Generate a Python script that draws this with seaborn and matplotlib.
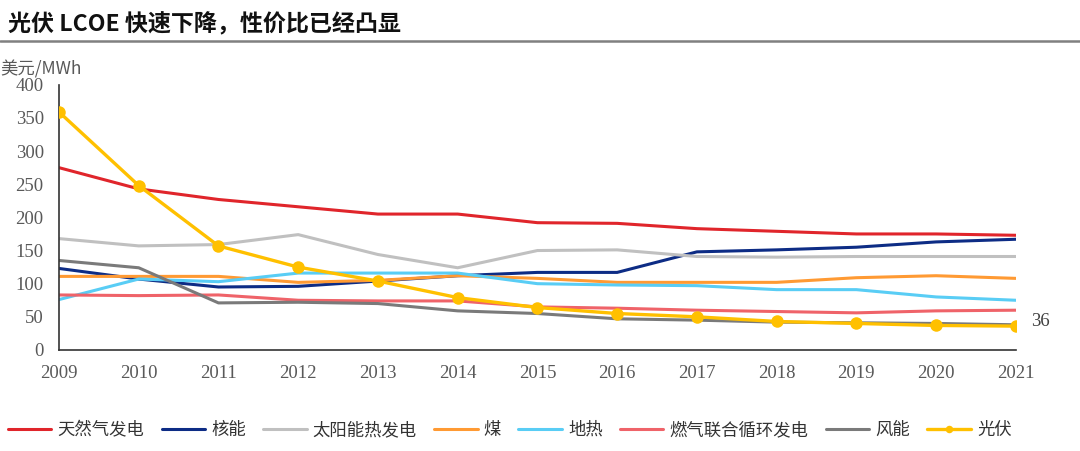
import numpy as np
import pandas as pd
import matplotlib
matplotlib.use('Agg')
import matplotlib.pyplot as plt
import seaborn as sns

years = list(range(2009, 2022))

gas_peak = [275, 243, 227, 216, 205, 205, 192, 191, 183, 179, 175, 175, 173]
nuclear = [123, 107, 95, 96, 104, 112, 117, 117, 148, 151, 155, 163, 167]
solar_thermal = [168, 157, 159, 174, 144, 124, 150, 151, 141, 140, 141, 141, 141]
coal = [111, 111, 111, 102, 105, 112, 108, 102, 102, 102, 109, 112, 108]
geothermal = [76, 107, 103, 116, 116, 116, 100, 98, 97, 91, 91, 80, 75]
gas_cc = [83, 82, 83, 75, 74, 74, 65, 63, 60, 58, 56, 59, 60]
wind = [135, 124, 71, 72, 70, 59, 55, 47, 45, 42, 41, 40, 38]
pv = [359, 248, 157, 125, 104, 79, 64, 55, 50, 43, 40, 37, 36]

names = ['天然气发电', '核能', '太阳能热发电', '煤', '地热', '燃气联合循环发电', '风能', '光伏']
series = [gas_peak, nuclear, solar_thermal, coal, geothermal, gas_cc, wind, pv]
colors = ['#E0252B', '#0D2C85', '#C0C0C0', '#FF9A33', '#59CDF5', '#EF6369', '#7A7A7A', '#FFC000']

sns.set_style('white')
plt.rcParams['font.family'] = ['Liberation Serif', 'Noto Sans CJK SC', 'DejaVu Sans']

fig = plt.figure(figsize=(10.8, 4.51), dpi=100)
ax = fig.add_axes([0.0546, 0.224, 0.886, 0.588])

for name, vals, c in zip(names, series, colors):
    if name == '光伏':
        sns.lineplot(x=years, y=vals, ax=ax, color=c, lw=2.4, marker='o',
                     markersize=9, markeredgewidth=0, label=name, zorder=10)
    else:
        sns.lineplot(x=years, y=vals, ax=ax, color=c, lw=2.2, label=name)

ax.set_xlim(2009, 2021)
ax.set_ylim(0, 400)
ax.set_yticks(range(0, 401, 50))
ax.set_xticks(years)
ax.set_xticklabels([str(y) for y in years])
ax.tick_params(axis='both', direction='in', width=1, colors='#333333',
               labelcolor='#595959', labelsize=13.5)
ax.tick_params(axis='x', length=5, pad=11)
ax.tick_params(axis='y', length=0, pad=11)
for s in ['top', 'right']:
    ax.spines[s].set_visible(False)
for s in ['left', 'bottom']:
    ax.spines[s].set_color('#333333')
    ax.spines[s].set_linewidth(1.2)
ax.set_xlabel('')
ax.set_ylabel('')

ax.annotate(str(pv[-1]), xy=(years[-1], pv[-1]), xytext=(11, 3), textcoords='offset points',
            fontsize=13.5, color='#404040', va='center', ha='left')

leg = ax.legend(loc='center', bbox_to_anchor=(0.472, 0.047), bbox_transform=fig.transFigure,
                ncol=8, frameon=False, handlelength=2.5, columnspacing=1.0,
                handletextpad=0.35, markerscale=0.6,
                prop={'family': ['Noto Sans CJK SC'], 'size': 12.5})
for t in leg.get_texts():
    t.set_color('#333333')

fig.text(0.007, 0.945, '光伏 LCOE 快速下降，性价比已经凸显', fontsize=16.6, fontweight='bold',
         family=['Noto Sans CJK SC'], color='#111111', va='center', ha='left')
fig.add_artist(plt.Line2D([0, 1], [0.909, 0.909], transform=fig.transFigure,
                          color='#808080', lw=1.8))
fig.text(0.0, 0.845, '美元/MWh', fontsize=12.5, family=['Noto Sans CJK SC'],
         color='#595959', va='center', ha='left')

fig.savefig('out.png', dpi=100)
